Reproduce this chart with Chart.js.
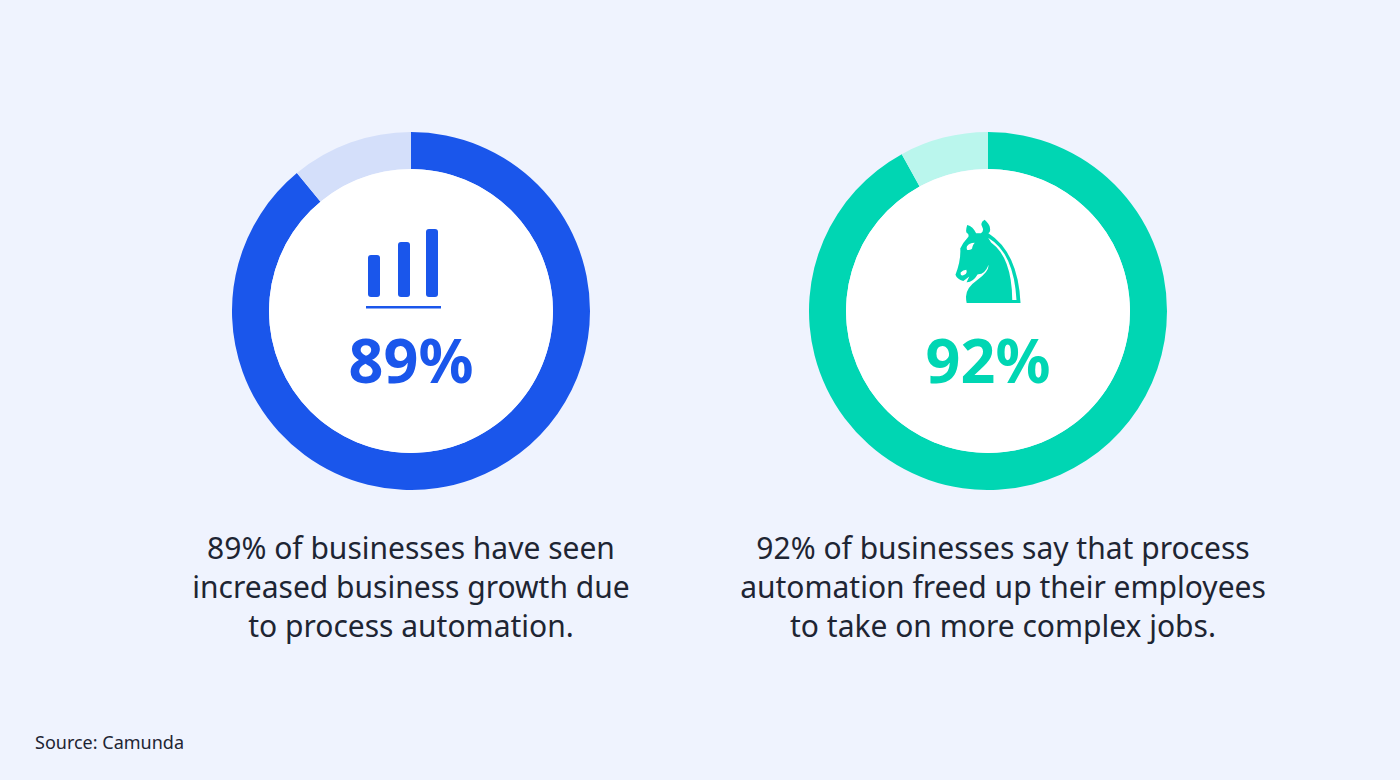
<!DOCTYPE html>
<html>
<head>
<meta charset="utf-8">
<script src="https://cdn.jsdelivr.net/npm/chart.js@4/dist/chart.umd.min.js"></script>
<style>
  body { margin: 0; background: #eff3fe; font-family: "Noto Sans", sans-serif; }
  #wrap { position: relative; width: 1400px; height: 780px; }
  .ring { position: absolute; width: 358px; height: 358px; }
  .ring .inner { position: absolute; left: 37px; top: 37px; width: 284px; height: 284px; border-radius: 50%; background: #fff; }
  .pct { position: absolute; width: 400px; text-align: center; font-weight: 700; font-size: 61px; line-height: 1; }
  .cap { position: absolute; width: 640px; text-align: center; font-size: 30px; line-height: 39px; color: #1e2533; }
  #src { position: absolute; left: 35px; top: 730px; font-size: 18px; color: #1e2533; }
</style>
</head>
<body>
<div id="wrap">
  <div class="ring" style="left:232px;top:132px"><div class="inner"></div><canvas id="c1"></canvas></div>
  <div class="ring" style="left:809px;top:132px"><div class="inner"></div><canvas id="c2"></canvas></div>

  <svg style="position:absolute;left:360px;top:225px" width="90" height="90">
    <rect x="8" y="30" width="12" height="42" rx="3" fill="#1a56eb"/>
    <rect x="38" y="17" width="12" height="55" rx="3" fill="#1a56eb"/>
    <rect x="66" y="4" width="12" height="68" rx="3" fill="#1a56eb"/>
    <rect x="6" y="81" width="75" height="2.5" fill="#1a56eb"/>
  </svg>
  <div style="position:absolute;left:918px;top:207px;width:140px;text-align:center;font-family:'DejaVu Sans';font-size:114px;line-height:1;color:#00d6b3">&#9822;</div>

  <div class="pct" style="left:211px;top:329px;color:#1a56eb" id="p1"></div>
  <div class="pct" style="left:788px;top:329px;color:#00d6b3" id="p2"></div>

  <div class="cap" style="left:91px;top:528px">89% of businesses have seen<br>increased business growth due<br>to process automation.</div>
  <div class="cap" style="left:683px;top:528px">92% of businesses say that process<br>automation freed up their employees<br>to take on more complex jobs.</div>
  <div id="src">Source: Camunda</div>
</div>
<script>
const labels = ['Yes', 'No'];
const growthValues = [89, 11];
const freedValues = [92, 8];
const growthColors = ['#1a56eb', '#d4dffa'];
const freedColors = ['#00d6b3', '#baf6ed'];

function makeRing(id, values, colors) {
  new Chart(document.getElementById(id), {
    type: 'doughnut',
    data: { labels: labels, datasets: [{ data: values, backgroundColor: colors, borderWidth: 0 }] },
    options: {
      responsive: false,
      animation: false,
      cutout: '79.3%',
      plugins: { legend: { display: false }, tooltip: { enabled: false } }
    }
  });
}
document.getElementById('c1').width = 358; document.getElementById('c1').height = 358;
document.getElementById('c2').width = 358; document.getElementById('c2').height = 358;
makeRing('c1', growthValues, growthColors);
makeRing('c2', freedValues, freedColors);
document.getElementById('p1').textContent = growthValues[0] + '%';
document.getElementById('p2').textContent = freedValues[0] + '%';
</script>
</body>
</html>
